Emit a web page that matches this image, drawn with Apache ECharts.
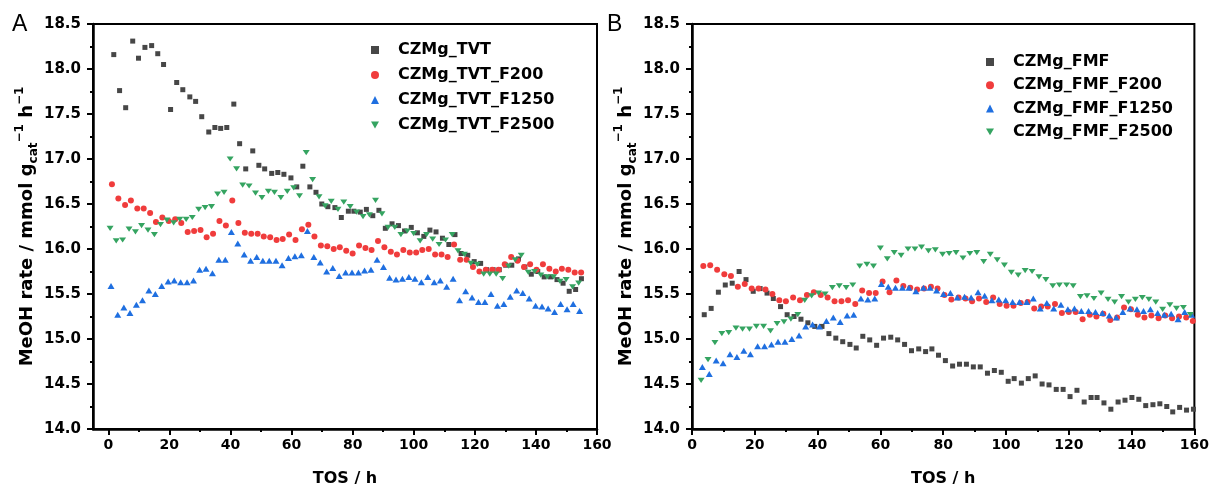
<!DOCTYPE html>
<html><head><meta charset="utf-8">
<script src="https://cdn.jsdelivr.net/npm/echarts@6/dist/echarts.min.js"></script>
<style>html,body{margin:0;padding:0;background:#fff}#c{width:1212px;height:494px}</style>
</head><body><div id="c"></div>
<script>
// ---- Panel A data ----
const tvtX = [1.8,3.7,5.7,8.0,9.9,12.0,14.2,16.2,18.1,20.4,22.4,24.4,26.7,28.6,30.6,32.9,34.9,36.8,38.8,41.1,43.0,45.0,47.3,49.3,51.2,53.5,55.5,57.5,59.8,61.7,63.7,66.0,68.0,69.9,71.9,74.2,76.3,78.6,80.4,82.5,84.5,86.6,88.6,90.7,92.9,95.0,97.0,99.2,101.2,103.3,105.3,107.3,109.4,111.5,113.5,115.5,117.7,119.8,121.9,123.9,126.0,128.0,130.1,132.1,134.3,136.4,138.5,140.6,142.7,144.8,146.9,148.9,150.9,153.0,154.9];
const tvtY = [18.16,17.76,17.57,18.31,18.12,18.24,18.26,18.17,18.05,17.55,17.85,17.77,17.69,17.64,17.47,17.30,17.35,17.34,17.35,17.61,17.17,16.89,17.09,16.93,16.89,16.84,16.85,16.83,16.79,16.69,16.92,16.69,16.63,16.50,16.47,16.46,16.35,16.42,16.42,16.41,16.44,16.37,16.43,16.23,16.28,16.26,16.20,16.24,16.18,16.14,16.21,16.19,16.12,16.05,16.16,15.95,15.93,15.86,15.84,15.77,15.77,15.77,15.82,15.82,15.89,15.80,15.72,15.75,15.69,15.69,15.66,15.62,15.53,15.55,15.67];

const tvt200X = [1.2,3.3,5.5,7.4,9.5,11.6,13.7,15.6,17.7,19.8,21.9,23.9,26.0,28.1,30.2,32.2,34.3,36.4,38.5,40.6,42.6,44.7,46.8,48.9,50.9,53.0,55.1,57.1,59.2,61.3,63.4,65.5,67.5,69.6,71.7,73.8,75.8,77.9,80.0,82.1,84.2,86.2,88.3,90.4,92.5,94.5,96.6,98.7,100.8,102.8,104.9,107.0,109.1,111.1,113.2,115.2,117.3,119.4,121.5,123.6,125.7,127.8,129.8,131.9,134.0,136.1,138.1,140.2,142.3,144.4,146.5,148.5,150.6,152.7,154.8];
const tvt200Y = [16.72,16.56,16.49,16.54,16.45,16.45,16.40,16.30,16.35,16.31,16.33,16.29,16.19,16.20,16.21,16.13,16.17,16.31,16.26,16.54,16.29,16.18,16.17,16.17,16.14,16.13,16.10,16.11,16.16,16.10,16.22,16.27,16.14,16.04,16.03,16.00,16.02,15.98,15.95,16.04,16.01,15.99,16.09,16.02,15.97,15.94,15.99,15.96,15.96,15.99,16.00,15.94,15.94,15.91,16.05,15.88,15.88,15.80,15.75,15.77,15.77,15.77,15.83,15.91,15.87,15.80,15.83,15.77,15.83,15.78,15.75,15.78,15.77,15.74,15.74];

const tvt1250X = [0.9,3.1,5.1,7.1,9.2,11.2,13.3,15.4,17.5,19.6,21.6,23.7,25.8,27.9,29.9,32.0,34.1,36.2,38.3,40.3,42.4,44.5,46.6,48.6,50.6,52.7,54.9,56.9,59.0,61.1,63.2,65.2,67.3,69.4,71.5,73.5,75.6,77.7,79.8,81.9,83.9,86.0,88.0,90.1,92.1,94.2,96.3,98.4,100.4,102.5,104.6,106.7,108.7,110.8,112.9,115.0,117.0,119.1,121.2,123.3,125.3,127.4,129.5,131.6,133.7,135.7,137.8,139.9,142.0,144.0,146.1,148.1,150.2,152.2,154.3];
const tvt1250Y = [15.59,15.27,15.35,15.29,15.38,15.43,15.54,15.50,15.59,15.64,15.65,15.63,15.63,15.65,15.77,15.78,15.73,15.88,15.88,16.19,16.06,15.94,15.87,15.91,15.87,15.87,15.87,15.82,15.90,15.92,15.93,16.20,15.91,15.85,15.75,15.79,15.70,15.74,15.74,15.74,15.76,15.77,15.88,15.80,15.68,15.66,15.67,15.69,15.67,15.63,15.69,15.63,15.65,15.58,15.67,15.43,15.53,15.46,15.41,15.41,15.50,15.37,15.39,15.47,15.54,15.51,15.45,15.37,15.36,15.34,15.30,15.39,15.33,15.39,15.31];

const tvt2500X = [0.6,2.6,4.7,6.8,8.9,10.9,13.0,15.1,17.1,19.2,21.4,23.4,25.5,27.5,29.6,31.7,33.8,35.8,37.9,39.9,42.0,44.0,46.1,48.2,50.3,52.4,54.4,56.5,58.6,60.7,62.6,64.8,66.9,69.0,71.0,73.0,75.2,77.1,79.2,81.3,83.4,85.5,87.5,89.6,91.6,93.8,95.8,97.9,100.0,102.1,104.2,106.2,108.3,110.4,112.6,114.5,116.6,118.7,120.8,122.9,124.9,127.0,129.1,131.1,133.2,135.2,137.5,139.6,141.6,143.7,145.8,147.9,149.9,152.0,154.0];
const tvt2500Y = [16.23,16.09,16.10,16.22,16.19,16.26,16.21,16.16,16.27,16.32,16.29,16.33,16.33,16.35,16.44,16.46,16.47,16.61,16.63,17.00,16.89,16.71,16.70,16.62,16.57,16.64,16.63,16.57,16.64,16.68,16.59,17.07,16.77,16.58,16.48,16.53,16.44,16.52,16.47,16.41,16.36,16.38,16.54,16.39,16.24,16.24,16.16,16.20,16.17,16.09,16.16,16.11,16.05,16.10,16.16,15.98,15.94,15.84,15.83,15.72,15.72,15.72,15.67,15.81,15.88,15.93,15.74,15.75,15.71,15.69,15.69,15.64,15.66,15.58,15.62];

// ---- Panel B data ----
const fmfX = [3.9,6.1,8.4,10.6,12.8,15.0,17.2,19.5,21.7,23.9,25.9,28.2,30.3,32.5,34.7,36.9,39.1,41.4,43.6,45.8,48.0,50.3,52.3,54.4,56.6,58.8,61.0,63.3,65.5,67.7,69.9,72.2,74.4,76.4,78.5,80.7,83.0,85.2,87.4,89.6,91.8,94.1,96.3,98.5,100.7,102.6,104.9,107.1,109.3,111.5,113.7,116.0,118.2,120.4,122.6,124.9,127.1,129.0,131.2,133.4,135.7,137.9,140.1,142.3,144.5,146.8,149.0,151.2,153.1,155.3,157.5,159.7];
const fmfY = [15.27,15.34,15.52,15.60,15.62,15.75,15.66,15.53,15.56,15.51,15.45,15.36,15.27,15.25,15.22,15.18,15.14,15.14,15.06,15.01,14.97,14.94,14.90,15.03,14.99,14.93,15.01,15.02,14.99,14.94,14.87,14.89,14.86,14.89,14.82,14.76,14.70,14.72,14.72,14.69,14.69,14.62,14.65,14.63,14.53,14.56,14.51,14.56,14.59,14.50,14.49,14.44,14.44,14.36,14.43,14.30,14.35,14.35,14.29,14.22,14.30,14.32,14.35,14.33,14.26,14.27,14.28,14.25,14.19,14.24,14.21,14.22];

const fmf200X = [3.6,5.8,8.0,10.3,12.4,14.6,16.8,19.0,21.2,23.4,25.6,27.8,29.9,32.2,34.4,36.6,38.8,41.0,43.2,45.4,47.6,49.7,52.0,54.2,56.4,58.5,60.7,62.9,65.1,67.3,69.5,71.7,73.9,76.1,78.2,80.4,82.6,84.9,87.1,89.2,91.4,93.7,95.9,98.0,100.2,102.4,104.7,106.9,109.0,111.2,113.3,115.6,117.8,120.0,122.2,124.4,126.7,128.8,131.0,133.2,135.4,137.6,139.8,142.0,144.1,146.3,148.6,150.7,152.9,155.1,157.4,159.5];
const fmf200Y = [15.81,15.82,15.77,15.72,15.70,15.58,15.61,15.56,15.56,15.55,15.50,15.43,15.42,15.46,15.43,15.49,15.52,15.49,15.46,15.42,15.42,15.43,15.39,15.54,15.51,15.51,15.64,15.52,15.65,15.59,15.57,15.55,15.56,15.58,15.56,15.49,15.44,15.46,15.45,15.42,15.45,15.41,15.46,15.39,15.37,15.37,15.40,15.41,15.34,15.36,15.36,15.39,15.29,15.30,15.30,15.22,15.27,15.25,15.28,15.21,15.24,15.35,15.33,15.27,15.24,15.26,15.23,15.26,15.23,15.25,15.24,15.20];

const fmf1250X = [3.3,5.5,7.7,9.9,12.1,14.3,16.5,18.6,20.9,23.1,25.3,27.4,29.6,31.8,34.1,36.2,38.4,40.6,42.8,45.0,47.2,49.4,51.5,53.8,56.0,58.2,60.3,62.5,64.8,67.0,69.1,71.3,73.7,75.8,77.9,80.1,82.3,84.5,86.8,88.9,91.1,93.2,95.5,97.7,99.9,102.1,104.3,106.6,108.7,110.9,113.0,115.2,117.5,119.7,121.8,124.0,126.3,128.5,130.7,132.9,135.1,137.2,139.5,141.7,143.8,146.0,148.3,150.4,152.6,154.8,156.9,159.1];
const fmf1250Y = [14.69,14.61,14.76,14.73,14.83,14.80,14.87,14.83,14.92,14.92,14.94,14.97,14.97,15.00,15.04,15.14,15.16,15.14,15.20,15.24,15.19,15.26,15.27,15.45,15.44,15.45,15.61,15.58,15.57,15.57,15.57,15.53,15.57,15.57,15.54,15.50,15.51,15.46,15.47,15.46,15.52,15.48,15.43,15.44,15.43,15.41,15.41,15.41,15.45,15.34,15.40,15.34,15.38,15.33,15.34,15.31,15.31,15.30,15.29,15.26,15.24,15.30,15.34,15.33,15.31,15.33,15.29,15.27,15.28,15.22,15.30,15.27];

const fmf2500X = [2.9,5.1,7.3,9.5,11.7,14.0,16.1,18.3,20.5,22.8,25.0,27.1,29.3,31.5,33.7,35.9,38.1,40.3,42.4,44.7,46.9,49.1,51.2,53.4,55.7,57.8,60.0,62.2,64.4,66.6,68.8,71.0,73.1,75.3,77.5,79.8,81.9,84.1,86.3,88.5,90.7,92.9,95.0,97.2,99.5,101.7,103.9,106.1,108.3,110.5,112.7,114.9,117.0,119.3,121.4,123.7,125.8,128.0,130.3,132.5,134.6,136.8,139.0,141.2,143.4,145.5,147.7,149.9,152.2,154.3,156.5,158.7];
const fmf2500Y = [14.54,14.77,14.96,15.06,15.07,15.12,15.11,15.11,15.14,15.14,15.09,15.17,15.19,15.22,15.27,15.43,15.48,15.51,15.50,15.57,15.59,15.57,15.60,15.81,15.83,15.81,16.01,15.89,15.96,15.93,16.00,16.00,16.02,15.98,15.99,15.94,15.95,15.96,15.90,15.95,15.96,15.86,15.94,15.88,15.82,15.74,15.71,15.76,15.75,15.69,15.66,15.59,15.60,15.60,15.59,15.47,15.48,15.45,15.51,15.44,15.41,15.47,15.41,15.44,15.46,15.44,15.41,15.33,15.38,15.34,15.35,15.27];

// ---- ticks ----
const xMajorTicks = [0,20,40,60,80,100,120,140,160];
const xMinorTicksA = [10,30,50,70,90,110,130,150];

const zip = (xs, ys) => xs.map((x, i) => [x, ys[i]]);

const FONT = 'DejaVu Sans';
const BLACK = '#000';
const C_BLK = '#474747', C_RED = '#f03c3c', C_BLU = '#1f6fe0', C_GRN = '#35a461';
const DOWN_TRI = 'path://M0,0 L10,0 L5,8.6 Z';

const yName = '{m|MeOH rate / mmol g}{s|cat}{p|\u22121}{m| h}{p|\u22121}';
const yNameStyle = {
  color: BLACK, fontFamily: FONT, fontWeight: 'bold', fontSize: 18,
  rich: {
    m: {fontFamily: FONT, fontWeight: 'bold', fontSize: 18, lineHeight: 26, color: BLACK},
    s: {fontFamily: FONT, fontWeight: 'bold', fontSize: 12, lineHeight: 14, verticalAlign: 'bottom', color: BLACK},
    p: {fontFamily: FONT, fontWeight: 'bold', fontSize: 12, lineHeight: 14, verticalAlign: 'top', color: BLACK}
  }
};
const axisLine = {show: true, onZero: false, lineStyle: {color: BLACK, width: 2.5}};
const tickLabel = {color: BLACK, fontFamily: FONT, fontWeight: 'bold', fontSize: 14};
const xName = {color: BLACK, fontFamily: FONT, fontWeight: 'bold', fontSize: 16};

function yAxis(gi) {
  return {
    type: 'value', gridIndex: gi, min: 14, max: 18.5, interval: 0.5,
    axisLine: axisLine,
    axisTick: {show: true, length: 6, lineStyle: {color: BLACK, width: 2}},
    minorTick: {show: true, splitNumber: 2, length: 3, lineStyle: {color: BLACK, width: 2}},
    splitLine: {show: false},
    axisLabel: Object.assign({}, tickLabel, {fontSize: 15, margin: 12, formatter: v => v.toFixed(1)}),
    name: yName, nameLocation: 'middle', nameGap: 50, nameTextStyle: yNameStyle
  };
}

function sc(name, xi, yi, xs, ys, symbol, color, size) {
  return {
    type: 'scatter', name: name, xAxisIndex: xi, yAxisIndex: yi,
    data: zip(xs, ys), symbol: symbol, symbolSize: size,
    symbolKeepAspect: true,
    itemStyle: {color: color, opacity: 1}, emphasis: {disabled: true}, animation: false, z: 3
  };
}

const legendText = {color: BLACK, fontFamily: FONT, fontWeight: 'bold', fontSize: 16, lineHeight: 16, padding: [0, 0, 0, 14]};

const option = {
  animation: false,
  backgroundColor: '#fff',
  grid: [
    {left: 93, right: 615, top: 24, bottom: 65, show: true, borderColor: BLACK, borderWidth: 2, backgroundColor: 'transparent'},
    {left: 692, right: 16, top: 24, bottom: 65, show: true, borderColor: BLACK, borderWidth: 2, backgroundColor: 'transparent'}
  ],
  xAxis: [
    {
      type: 'value', gridIndex: 0, min: -5, max: 160, position: 'bottom',
      axisLine: axisLine,
      axisTick: {show: true, length: 6, customValues: xMajorTicks, lineStyle: {color: BLACK, width: 2}},
      axisLabel: Object.assign({}, tickLabel, {margin: 9, customValues: xMajorTicks}),
      splitLine: {show: false},
      name: 'TOS / h', nameLocation: 'middle', nameGap: 42, nameTextStyle: xName
    },
    {
      type: 'value', gridIndex: 0, min: -5, max: 160, position: 'bottom', offset: 0,
      axisLine: {show: false},
      axisTick: {show: true, length: 3, customValues: xMinorTicksA, lineStyle: {color: BLACK, width: 2}},
      axisLabel: {show: false},
      splitLine: {show: false}
    },
    {
      type: 'value', gridIndex: 1, min: 0, max: 160, interval: 20, position: 'bottom',
      axisLine: axisLine,
      axisTick: {show: true, length: 6, lineStyle: {color: BLACK, width: 2}},
      minorTick: {show: true, splitNumber: 2, length: 3, lineStyle: {color: BLACK, width: 2}},
      axisLabel: Object.assign({}, tickLabel, {margin: 9}),
      splitLine: {show: false},
      name: 'TOS / h', nameLocation: 'middle', nameGap: 42, nameTextStyle: xName
    }
  ],
  yAxis: [yAxis(0), yAxis(1)],
  legend: [
    {
      orient: 'vertical', left: 366, top: 37, itemWidth: 8, itemHeight: 8, itemGap: 9,
      textStyle: legendText, selectedMode: false,
      data: ['CZMg_TVT', 'CZMg_TVT_F200', 'CZMg_TVT_F1250', {name: 'CZMg_TVT_F2500', icon: DOWN_TRI}]
    },
    {
      orient: 'vertical', left: 981, top: 49, itemWidth: 8, itemHeight: 8, itemGap: 7.3,
      textStyle: legendText, selectedMode: false,
      data: ['CZMg_FMF', 'CZMg_FMF_F200', 'CZMg_FMF_F1250', {name: 'CZMg_FMF_F2500', icon: DOWN_TRI}]
    }
  ],
  graphic: [
    {type: 'text', left: 12, top: 13, style: {text: 'A', fontFamily: 'Liberation Sans', fontSize: 23, fill: BLACK}},
    {type: 'text', left: 607, top: 13, style: {text: 'B', fontFamily: 'Liberation Sans', fontSize: 23, fill: BLACK}}
  ],
  series: [
    sc('CZMg_TVT', 0, 0, tvtX, tvtY, 'rect', C_BLK, 5),
    sc('CZMg_TVT_F200', 0, 0, tvt200X, tvt200Y, 'circle', C_RED, 6),
    sc('CZMg_TVT_F1250', 0, 0, tvt1250X, tvt1250Y, 'triangle', C_BLU, [7, 6]),
    sc('CZMg_TVT_F2500', 0, 0, tvt2500X, tvt2500Y, DOWN_TRI, C_GRN, [7, 6]),
    sc('CZMg_FMF', 2, 1, fmfX, fmfY, 'rect', C_BLK, 5),
    sc('CZMg_FMF_F200', 2, 1, fmf200X, fmf200Y, 'circle', C_RED, 6),
    sc('CZMg_FMF_F1250', 2, 1, fmf1250X, fmf1250Y, 'triangle', C_BLU, [7, 6]),
    sc('CZMg_FMF_F2500', 2, 1, fmf2500X, fmf2500Y, DOWN_TRI, C_GRN, [7, 6])
  ]
};

const chart = echarts.init(document.getElementById('c'), null, {renderer: 'canvas'});
chart.setOption(option);
</script>
</body></html>
